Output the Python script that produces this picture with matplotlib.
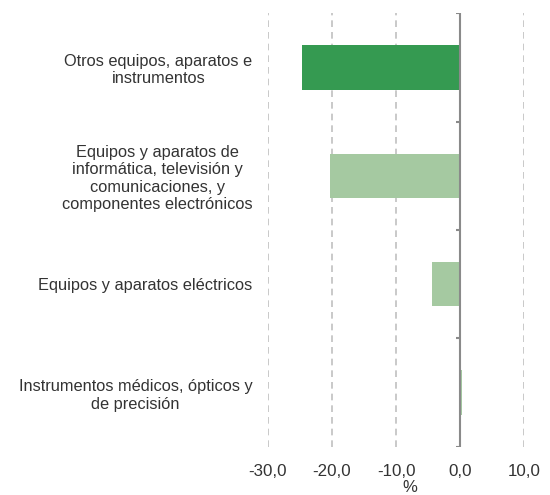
import matplotlib
matplotlib.use("Agg")
import matplotlib.pyplot as plt
import numpy as np

categories = [
    "Otros equipos, aparatos e\ninstrumentos",
    "Equipos y aparatos de\ninformática, televisión y\ncomunicaciones, y\ncomponentes electrónicos",
    "Equipos y aparatos eléctricos",
    "Instrumentos médicos, ópticos y\nde precisión",
]
values = [-24.7, -20.3, -4.4, 0.3]
colors = ["#359A51", "#A5C9A1", "#A5C9A1", "#A5C9A1"]
xticks = [-30, -20, -10, 0, 10]
xticklabels = ["-30,0", "-20,0", "-10,0", "0,0", "10,0"]

plt.rcParams['font.family'] = ['Liberation Sans', 'DejaVu Sans']

fig = plt.figure(figsize=(5.5, 4.95), dpi=100)
ax = fig.add_axes([0.4868, 0.0970, 0.4665, 0.8767])

y = np.arange(len(categories))
ax.barh(y, values, height=0.41, color=colors, zorder=2)
ax.set_ylim(len(categories) - 0.5, -0.5)
ax.set_xlim(-30, 10)

# gridlines (dashed) except at zero
for t in xticks:
    if t != 0:
        ax.axvline(t, color="#c0c0c0", linestyle=(0, (4, 3)), linewidth=1.2, zorder=1)

# zero axis with category boundary ticks
ax.axvline(0, color="#8a8a8a", linewidth=1.5, zorder=3)
bounds = np.arange(len(categories) + 1) - 0.5
ax.hlines(bounds, -0.6, 0, color="#8a8a8a", linewidth=1.5, zorder=3)

ax.set_xticks(xticks)
ax.set_xticklabels(xticklabels, fontsize=12.2, color="#333333")
ax.tick_params(axis='x', length=0, pad=12)
ax.set_yticks(y)
ax.set_yticklabels(categories, fontsize=11.8, color="#333333", multialignment='center')
ax.tick_params(axis='y', length=0, pad=11)

for s in ax.spines.values():
    s.set_visible(False)

ax.set_xlabel("%", fontsize=12, color="#333333")
ax.xaxis.set_label_coords(0.555, -0.075)

fig.savefig("out.png", dpi=100)
